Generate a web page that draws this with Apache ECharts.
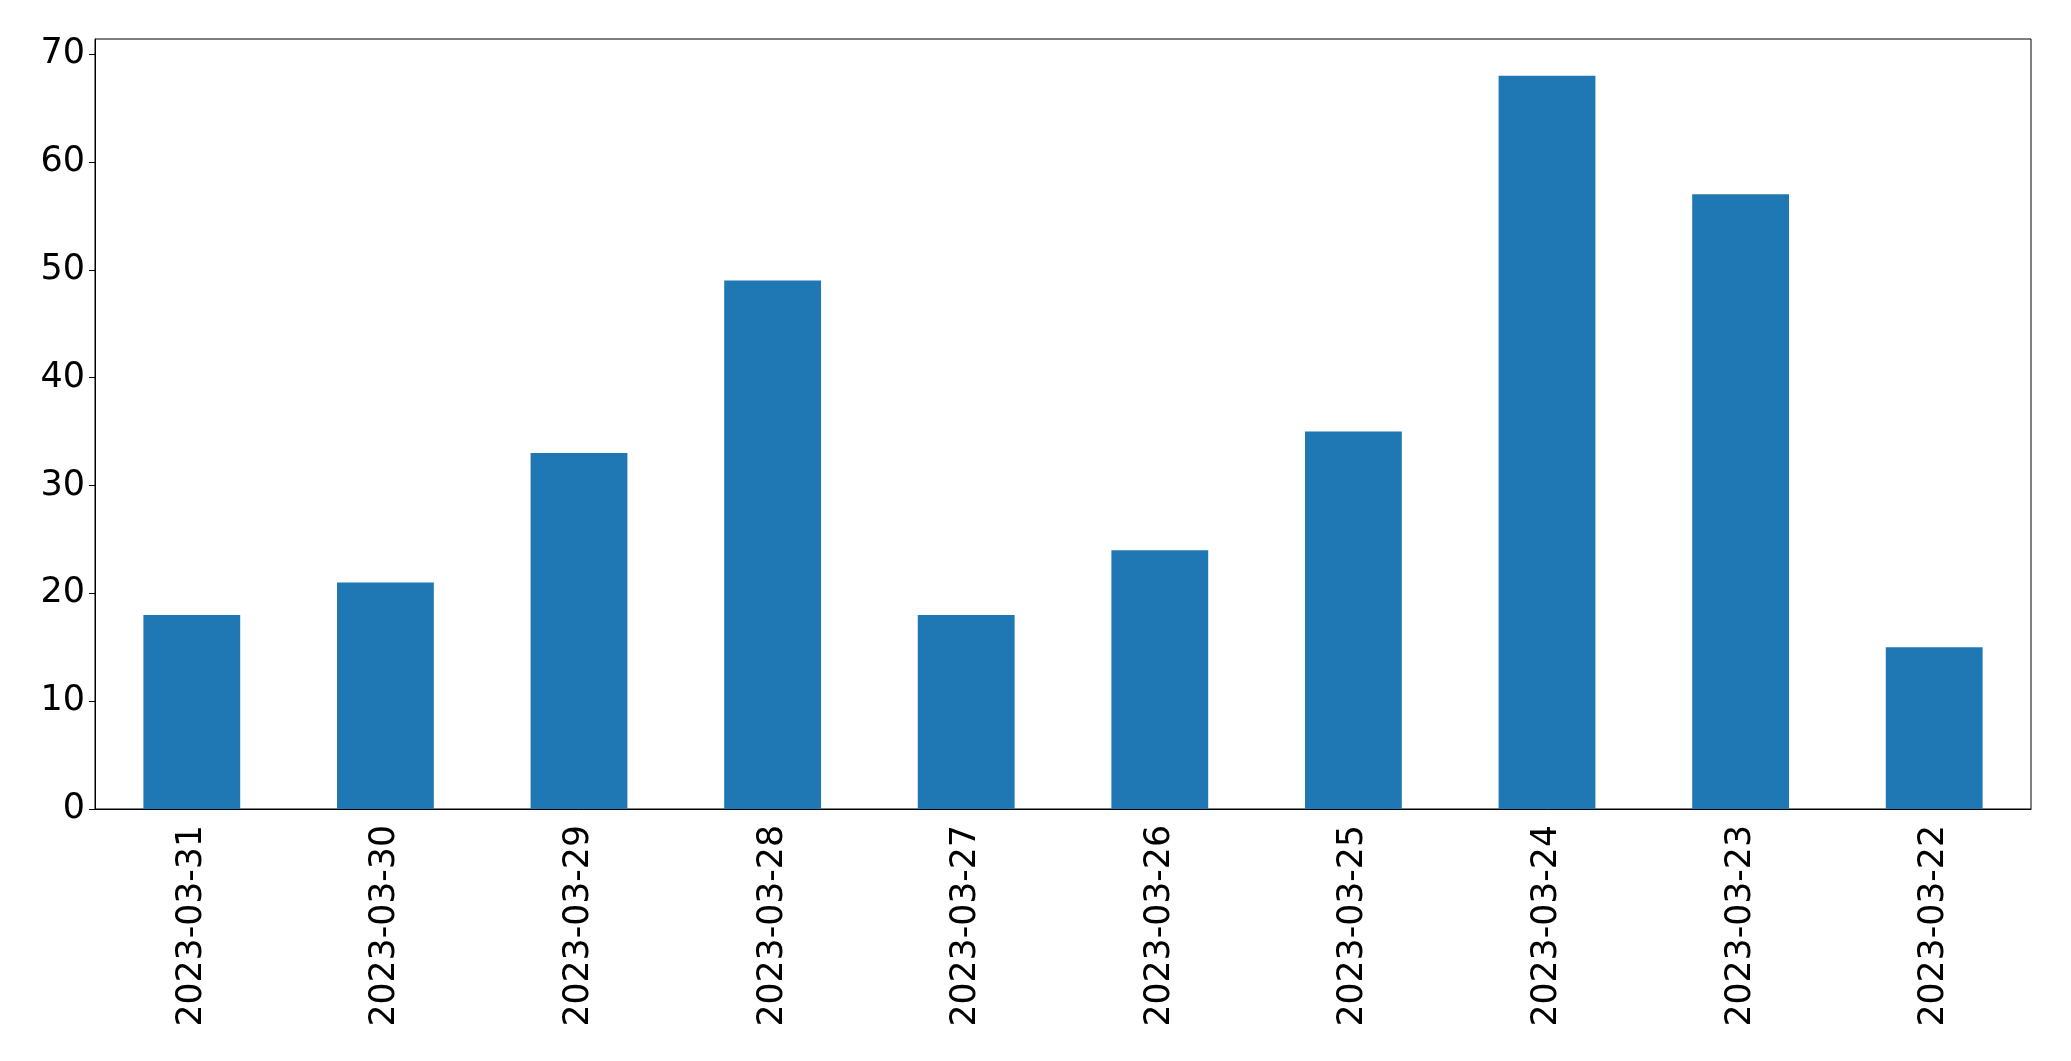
<!DOCTYPE html>
<html>
<head>
<meta charset="utf-8">
<script src="https://cdn.jsdelivr.net/npm/echarts@6/dist/echarts.min.js"></script>
<style>
  html, body { margin: 0; padding: 0; background: #fff; }
  #chart { width: 2071px; height: 1061px; }
</style>
</head>
<body>
<div id="chart"></div>
<script>
  // dates as they appear on the x axis (newest first)
  var dates = ['2023-03-31', '2023-03-30', '2023-03-29', '2023-03-28', '2023-03-27',
               '2023-03-26', '2023-03-25', '2023-03-24', '2023-03-23', '2023-03-22']
  var counts = [18, 21, 33, 49, 18, 24, 35, 68, 57, 15]
  var yTicks = [0, 10, 20, 30, 40, 50, 60, 70]

  var font = 'DejaVu Sans'
  var chart = echarts.init(document.getElementById('chart'))

  chart.setOption({
    animation: false,
    grid: {
      left: 95,
      right: 40,
      top: 39,
      bottom: 252,
      show: true,
      borderColor: '#000',
      borderWidth: 1,
      backgroundColor: 'transparent'
    },
    xAxis: {
      type: 'category',
      data: dates,
      axisLine: { lineStyle: { color: '#000', width: 1 } },
      axisTick: { alignWithLabel: true, length: 6, lineStyle: { color: '#000' } },
      axisLabel: {
        rotate: 90,
        interval: 0,
        margin: 16,
        color: '#000',
        fontFamily: font,
        fontSize: 34.7
      },
      splitLine: { show: false }
    },
    yAxis: {
      type: 'value',
      min: 0,
      max: 71.4,
      axisLine: { show: true, lineStyle: { color: '#000', width: 1 } },
      axisTick: { show: true, length: 6, customValues: yTicks, lineStyle: { color: '#000' } },
      axisLabel: {
        customValues: yTicks,
        margin: 10,
        color: '#000',
        fontFamily: font,
        fontSize: 35
      },
      splitLine: { show: false }
    },
    series: [{
      type: 'bar',
      data: counts,
      barWidth: '50%',
      itemStyle: { color: '#1f77b4' }
    }]
  })
</script>
</body>
</html>
